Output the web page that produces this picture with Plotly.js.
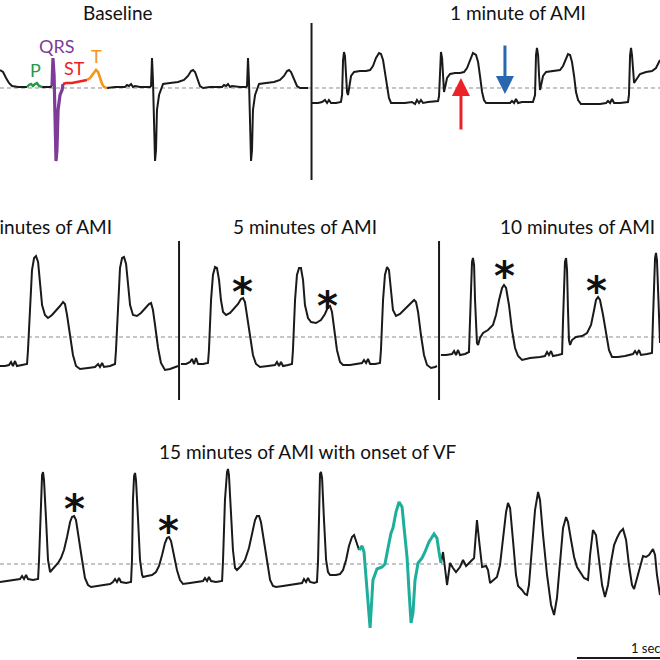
<!DOCTYPE html>
<html><head><meta charset="utf-8">
<script src="https://cdn.plot.ly/plotly-3.0.1.min.js"></script>
<style>html,body{margin:0;padding:0;background:#fff}#chart{width:660px;height:660px}</style>
</head><body><div id="chart"></div>
<script>
// ---- Row 1: Baseline (left) and 1 minute of AMI (right); time in ms, voltage in mV ----
const r1aT = [0,19,38,56,75,113,150,169];
const r1aV = [0.36,0.32,0.20,0.10,0.04,0.02,0.02,0.02];
const pT = [169,181,194,206,219,231,244,256,263];
const pV = [0.02,0.06,0.08,0.04,0.08,0.10,0.04,0.02,0.02];
const r1bT = [263,313,325];
const r1bV = [0.02,0.02,0.04];
const qrsT = [325,331,338,344,350,356,363,375,388,394];
const qrsV = [0.04,0.60,0.26,-0.64,-1.46,-1.24,-0.44,-0.14,-0.04,0.08];
const stT = [394,413,450,488,525,544];
const stV = [0.08,0.10,0.10,0.12,0.14,0.16];
const twT = [544,563,581,600,613,625,638,650,669];
const twV = [0.16,0.20,0.28,0.36,0.32,0.20,0.08,0.02,0.00];
const r1cT = [669,719,781,794,806,819,831,844,875,938,944,950,956,963,969,975,981,994,1006,1019,1063,1113,1150,1175,1194,1206,1219,1238,1250,1269,1313,1388,1400,1413,1425,1438,1450,1500,1538,1544,1550,1556,1563,1569,1575,1581,1594,1606,1619,1663,1713,1750,1775,1794,1806,1819,1838,1856,1875,1925];
const r1cV = [0,0.02,0.02,0.06,0.04,0.08,0.02,0.04,0.02,0.02,0.04,0.60,0.16,-0.84,-1.46,-1.24,-0.44,-0.14,-0.02,0.08,0.10,0.12,0.16,0.24,0.34,0.36,0.32,0.16,0.04,0,0.02,0.02,0.06,0.04,0.08,0.02,0.04,0.02,0.02,0.04,0.60,0.16,-0.84,-1.46,-1.24,-0.44,-0.14,-0.02,0.08,0.10,0.12,0.16,0.24,0.34,0.36,0.32,0.16,0.04,0,0];
const r1dT = [1950,1988,2013,2031,2044,2056,2069,2100,2131,2138,2144,2150,2156,2163,2169,2175,2181,2194,2213,2250,2288,2313,2331,2350,2369,2381,2394,2406,2419,2431,2444,2481,2531,2575,2594,2606,2619,2631,2644,2675,2738,2744,2750,2756,2763,2769,2775,2781,2794,2813,2844,2875,2900,2919,2938,2956,2975,2988,3000,3013,3025,3038,3094,3156,3188,3200,3213,3225,3238,3263,3331,3344,3350,3356,3363,3369,3375,3381,3394,3413,3456,3500,3519,3538,3550,3563,3575,3588,3600,3613,3631,3688,3750,3788,3800,3813,3825,3838,3875,3925,3931,3938,3944,3950,3956,3963,3975,4000,4038,4075,4100,4113,4125];
const r1dV = [-0.30,-0.30,-0.28,-0.24,-0.30,-0.24,-0.30,-0.30,-0.28,-0.14,0.56,0.72,0.64,0.26,-0.08,-0.14,0.00,0.24,0.32,0.34,0.34,0.36,0.44,0.60,0.70,0.68,0.56,0.32,0.00,-0.20,-0.30,-0.30,-0.30,-0.28,-0.32,-0.24,-0.30,-0.24,-0.30,-0.28,-0.26,-0.16,0.56,0.72,0.60,0.20,-0.08,0.00,0.20,0.28,0.30,0.30,0.32,0.40,0.56,0.70,0.66,0.52,0.24,-0.08,-0.24,-0.30,-0.30,-0.30,-0.30,-0.26,-0.30,-0.22,-0.30,-0.28,-0.28,-0.14,0.66,0.80,0.66,0.26,-0.04,0.04,0.24,0.32,0.34,0.36,0.44,0.60,0.68,0.66,0.52,0.24,-0.08,-0.24,-0.32,-0.32,-0.32,-0.30,-0.26,-0.30,-0.22,-0.30,-0.30,-0.28,-0.14,0.66,0.80,0.66,0.36,0.10,0.16,0.28,0.32,0.34,0.40,0.50,0.56];

// ---- Row 2: 2, 5 and 10 minutes of AMI ----
const r2aT = [0,31,56,69,81,94,106,138,169,175,188,200,213,225,238,250,263,281,300,325,350,375,394,406,419,438,456,475,500,550,594,613,625,638,650,688,719,725,738,750,763,775,788,800,813,831,856,881,906,931,944,956,969,988,1006,1031,1063,1094,1113];
const r2aV = [-0.58,-0.58,-0.56,-0.50,-0.58,-0.48,-0.58,-0.56,-0.54,-0.26,0.74,1.34,1.58,1.62,1.50,1.04,0.64,0.44,0.38,0.44,0.52,0.62,0.70,0.66,0.44,0.04,-0.36,-0.58,-0.64,-0.62,-0.60,-0.54,-0.60,-0.52,-0.60,-0.58,-0.54,-0.26,0.74,1.38,1.58,1.60,1.46,1.04,0.64,0.44,0.42,0.48,0.56,0.66,0.68,0.54,0.24,-0.22,-0.52,-0.66,-0.64,-0.60,-0.58];
const r2bT = [1131,1163,1188,1200,1213,1225,1238,1269,1300,1306,1319,1331,1344,1356,1369,1381,1394,1413,1438,1463,1488,1506,1519,1531,1544,1563,1581,1600,1625,1675,1719,1731,1744,1756,1769,1800,1825,1831,1844,1856,1869,1881,1894,1906,1925,1944,1975,2006,2031,2050,2063,2075,2088,2106,2125,2144,2188,2238,2263,2275,2288,2300,2313,2344,2375,2381,2394,2406,2419,2431,2444,2456,2475,2500,2531,2563,2588,2600,2613,2631,2650,2669,2694,2719,2731];
const r2bV = [-0.54,-0.54,-0.50,-0.44,-0.54,-0.42,-0.54,-0.54,-0.52,-0.26,0.74,1.24,1.40,1.38,1.14,0.74,0.50,0.44,0.48,0.56,0.66,0.76,0.78,0.70,0.44,0.04,-0.36,-0.54,-0.60,-0.58,-0.56,-0.50,-0.58,-0.50,-0.58,-0.56,-0.54,-0.26,0.74,1.24,1.38,1.38,1.14,0.64,0.38,0.30,0.28,0.34,0.46,0.60,0.62,0.50,0.14,-0.26,-0.50,-0.56,-0.56,-0.54,-0.52,-0.46,-0.52,-0.44,-0.54,-0.54,-0.52,-0.26,0.74,1.24,1.40,1.34,0.94,0.54,0.42,0.46,0.56,0.66,0.74,0.70,0.50,0.04,-0.36,-0.56,-0.62,-0.60,-0.58];
const r2cT = [2756,2788,2825,2838,2850,2863,2875,2906,2931,2938,2944,2950,2956,2963,2969,2975,2981,2988,3000,3019,3050,3081,3100,3119,3138,3150,3163,3181,3200,3219,3238,3263,3313,3375,3406,3419,3431,3444,3456,3488,3513,3519,3525,3531,3538,3544,3550,3556,3563,3575,3600,3638,3669,3694,3713,3725,3738,3750,3769,3788,3806,3825,3863,3906,3938,3956,3969,3981,3994,4006,4044,4075,4081,4088,4094,4100,4106,4113,4119,4125];
const r2cV = [-0.36,-0.36,-0.34,-0.28,-0.36,-0.26,-0.36,-0.34,-0.30,0.34,1.14,1.50,1.58,1.44,0.74,0.14,-0.12,-0.16,-0.02,0.08,0.14,0.24,0.44,0.74,0.98,1.04,0.98,0.64,0.14,-0.22,-0.38,-0.46,-0.42,-0.40,-0.38,-0.30,-0.36,-0.28,-0.38,-0.36,-0.34,0.34,1.14,1.50,1.58,1.34,0.54,-0.06,-0.16,-0.06,0.00,0.02,0.08,0.24,0.54,0.74,0.80,0.74,0.44,0.04,-0.26,-0.40,-0.40,-0.38,-0.36,-0.34,-0.28,-0.34,-0.26,-0.36,-0.34,-0.32,0.34,1.14,1.58,1.68,1.54,0.94,0.34,-0.12];

// ---- Row 3: 15 minutes of AMI with onset of VF ----
const r3aT = [0,50,94,125,138,150,163,175,206,238,244,256,263,269,275,288,300,313,325,344,363,381,400,419,438,450,463,475,494,513,531,550,569,606,656,688,706,719,731,744,756,788,819,825,831,838,844,850,863,875,888,894,919,950,975,994,1013,1031,1044,1056,1069,1088,1106,1125,1144,1188,1231,1269,1281,1294,1306,1319,1350,1388,1394,1406,1419,1425,1431,1444,1456,1469,1481,1506,1531,1556,1575,1594,1606,1619,1631,1650,1669,1688,1706,1725,1769,1813,1856,1888,1900,1913,1925,1938,1963,1981,1988,1994,2000,2006,2013,2025,2038,2050,2063,2100,2125,2144,2163,2181,2200,2213,2225,2238,2244];
const r3aV = [-0.36,-0.34,-0.32,-0.30,-0.24,-0.30,-0.22,-0.30,-0.32,-0.30,0.08,1.28,1.78,1.84,1.68,0.88,0.08,-0.16,-0.12,-0.04,0.02,0.12,0.28,0.54,0.84,0.94,0.96,0.88,0.52,0.08,-0.28,-0.42,-0.46,-0.44,-0.42,-0.40,-0.36,-0.30,-0.36,-0.28,-0.36,-0.38,-0.36,0.08,1.28,1.76,1.82,1.68,0.88,0.08,-0.22,-0.26,-0.24,-0.22,-0.16,-0.04,0.18,0.42,0.52,0.54,0.46,0.18,-0.12,-0.32,-0.40,-0.38,-0.36,-0.34,-0.28,-0.34,-0.26,-0.34,-0.36,-0.34,0.08,1.28,1.84,1.90,1.78,1.08,0.28,-0.08,-0.12,-0.04,0.08,0.32,0.64,0.88,0.96,0.96,0.84,0.48,0.04,-0.32,-0.44,-0.46,-0.44,-0.42,-0.40,-0.38,-0.30,-0.36,-0.28,-0.36,-0.38,-0.36,0.08,1.28,1.80,1.84,1.72,0.88,0.08,-0.16,-0.22,-0.22,-0.20,-0.12,0.08,0.36,0.54,0.58,0.48,0.36,0.28];
const vfT = [2244,2263,2275,2294,2313,2331,2356,2388,2406,2425,2444,2456,2475,2494,2513,2525,2544,2556,2569,2581,2594,2613,2638,2656,2681,2713,2731,2744,2756];
const vfV = [0.28,0.36,0.24,-0.52,-1.28,-0.32,-0.10,-0.06,0.00,0.32,0.62,0.72,1.04,1.24,1.14,0.74,0.14,-0.52,-1.18,-0.98,-0.32,0.02,0.12,0.24,0.44,0.60,0.52,0.24,0.02];
const r3bT = [2756,2769,2794,2813,2831,2850,2875,2894,2913,2938,2963,2969,2981,2994,3013,3038,3050,3063,3088,3106,3125,3144,3163,3175,3188,3206,3225,3238,3263,3281,3294,3306,3325,3344,3363,3375,3394,3419,3444,3463,3481,3500,3519,3538,3550,3569,3588,3606,3625,3650,3675,3688,3706,3725,3744,3763,3781,3800,3819,3838,3856,3875,3894,3913,3931,3950,3963,3981,4000,4019,4038,4056,4081,4094,4106,4125];
const r3bV = [0.02,0.24,-0.42,0.02,-0.08,-0.16,-0.06,0.08,-0.04,0.04,0.12,0.38,0.88,0.48,-0.06,-0.04,-0.12,-0.38,-0.32,-0.26,-0.02,0.48,1.04,1.22,1.12,0.48,-0.22,-0.44,-0.52,-0.60,-0.62,-0.42,0.28,1.08,1.44,1.28,0.58,-0.22,-0.82,-1.02,-0.68,0.08,0.72,0.94,0.84,0.48,0.14,-0.06,-0.16,-0.28,-0.32,0.18,0.68,0.58,0.08,-0.42,-0.66,-0.42,0.04,0.38,0.52,0.64,0.70,0.48,-0.02,-0.42,-0.50,-0.28,-0.02,0.16,0.14,0.18,0.30,0.18,-0.22,-0.62];

// ---- Labels ----
const titles = ["Baseline","1 minute of AMI","2 minutes of AMI","5 minutes of AMI","10 minutes of AMI","15 minutes of AMI with onset of VF"];
const waveLabels = ["P","QRS","ST","T"];
const waveLabelT = [219,350,463,600];
const waveLabelV = [0.36,0.84,0.40,0.64];
const star2T = [1513,2044,3156,3725];
const star2V = [1.06,0.78,1.38,1.08];
const star3T = [463,1050];
const star3V = [1.26,0.82];
const scaleBarMs = 1000;

const cat = (...parts) => parts.reduce((a,p,i)=> i ? a.concat([null], p) : a.concat(p), []);

const BLACK = '#1a1a1a';
const C_P = '#27994a', C_QRS = '#7d3c98', C_ST = '#ec2227', C_T = '#f7941d', C_VF = '#1fae9c', C_BLUE = '#2a67b1';

function tr(x, y, xa, ya, color, w){
  return {x:x, y:y, xaxis:xa, yaxis:ya, type:'scatter', mode:'lines', hoverinfo:'skip',
          line:{color:color, width:w}, showlegend:false, connectgaps:false};
}

const data = [
  tr(cat(r1aT, r1bT, r1cT, r1dT), cat(r1aV, r1bV, r1cV, r1dV), 'x', 'y', BLACK, 2),
  tr(pT, pV, 'x', 'y', C_P, 2.5),
  tr(qrsT, qrsV, 'x', 'y', C_QRS, 3.2),
  tr(stT, stV, 'x', 'y', C_ST, 2.6),
  tr(twT, twV, 'x', 'y', C_T, 2.6),
  tr(cat(r2aT, r2bT, r2cT), cat(r2aV, r2bV, r2cV), 'x2', 'y2', BLACK, 2),
  tr(cat(r3aT, r3bT), cat(r3aV, r3bV), 'x3', 'y3', BLACK, 2),
  tr(vfT, vfV, 'x3', 'y3', C_VF, 3)
];

const XR = [0, 4125];
function xax(){ return {range:XR, domain:[0,1], visible:false, fixedrange:true}; }
function yax(dom, rng){ return {range:rng, domain:dom, visible:false, fixedrange:true}; }

const dashLine = (xr, yr) => ({type:'line', xref:xr, yref:yr, x0:XR[0], x1:XR[1], y0:0, y1:0,
  line:{color:'#8c8c8c', width:1, dash:'4px,3px'}, layer:'below'});
const sep = (xr, yr, x, y0, y1) => ({type:'line', xref:xr, yref:yr, x0:x, x1:x, y0:y0, y1:y1,
  line:{color:BLACK, width:2}});

const shapes = [
  dashLine('x','y'), dashLine('x2','y2'), dashLine('x3','y3'),
  sep('x','y', 1947, 1.30, -1.84),
  sep('x2','y2', 1119, 1.92, -1.26),
  sep('x2','y2', 2744, 1.92, -1.26),
  {type:'line', xref:'x3', yref:'y3', x0:3606, x1:3606+scaleBarMs, y0:-1.88, y1:-1.88, line:{color:BLACK, width:2}}
];

const FONT = 'Lato, "Open Sans", sans-serif';
const titleFont = {family:FONT, size:19, color:'#111'};
const ann = [];
const titlePos = [[118,12.5],[518,13],[40,226.5],[304.5,226.5],[577,226.5],[307,451.5]];
titles.forEach((t,i)=>ann.push({text:t, xref:'paper', yref:'paper', x:titlePos[i][0]/660, y:1-titlePos[i][1]/660,
  xanchor:'center', yanchor:'middle', showarrow:false, font:titleFont}));
const wcol = [C_P, C_QRS, C_ST, C_T];
waveLabels.forEach((t,i)=>ann.push({text:t, xref:'x', yref:'y', x:waveLabelT[i], y:waveLabelV[i],
  xanchor:'center', yanchor:'middle', showarrow:false, font:{family:FONT, size:18, color:wcol[i]}}));
const starFont = {family:'"DejaVu Sans", sans-serif', size:40, weight:'bold', color:'#111'};
star2T.forEach((t,i)=>ann.push({text:'*', xref:'x2', yref:'y2', x:t, y:star2V[i], xanchor:'center', yanchor:'middle', yshift:-8, showarrow:false, font:starFont}));
star3T.forEach((t,i)=>ann.push({text:'*', xref:'x3', yref:'y3', x:t, y:star3V[i], xanchor:'center', yanchor:'middle', yshift:-8, showarrow:false, font:starFont}));
// arrows
ann.push({text:'', xref:'x', yref:'y', x:2881, y:0.20, ax:0, ay:53, showarrow:true, arrowhead:2, arrowsize:1.2, arrowwidth:3, arrowcolor:C_ST, standoff:0});
ann.push({text:'', xref:'x', yref:'y', x:3156, y:-0.12, ax:0, ay:-50, showarrow:true, arrowhead:2, arrowsize:1.2, arrowwidth:3, arrowcolor:C_BLUE, standoff:0});
// scale bar label
ann.push({text:'1 second', xref:'x3', yref:'y3', x:3606+scaleBarMs/2, y:-1.68, xanchor:'center', yanchor:'middle', showarrow:false, font:{family:FONT, size:13, color:'#111'}});

const layout = {
  width:660, height:660, margin:{l:0,r:0,t:0,b:0},
  paper_bgcolor:'#fff', plot_bgcolor:'rgba(0,0,0,0)', showlegend:false,
  xaxis:xax(), xaxis2:xax(), xaxis3:xax(),
  yaxis:yax([0.71970,0.96970],[-1.94,1.36]),
  yaxis2:yax([0.38636,0.63636],[-1.36,1.94]),
  yaxis3:yax([0,0.30303],[-1.92,2.08]),
  shapes:shapes, annotations:ann
};
Plotly.newPlot('chart', data, layout, {staticPlot:true, displayModeBar:false});
</script></body></html>
